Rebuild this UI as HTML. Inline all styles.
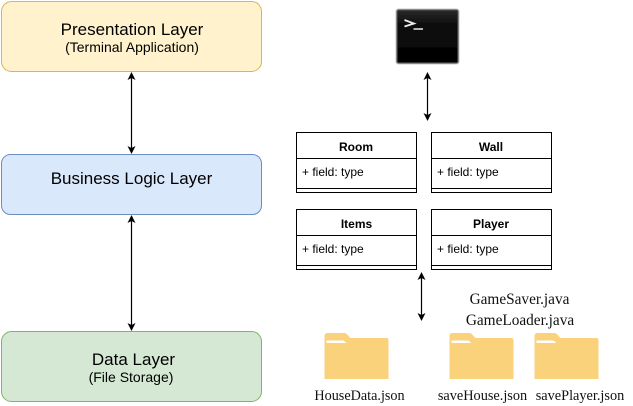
<!DOCTYPE html>
<html>
<head>
<meta charset="utf-8">
<style>
html,body{margin:0;padding:0;background:#fff;width:633px;height:406px;overflow:hidden}
svg{display:block}
.s{font-family:"Liberation Sans",sans-serif;fill:#000}
.f{font-family:"Liberation Serif",serif;fill:#111}
</style>
</head>
<body>
<svg width="633" height="406" viewBox="0 0 633 406" xmlns="http://www.w3.org/2000/svg">
<defs>
<g id="folder">
<path d="M0 3Q0 0 3 0H20Q22 0 24 3L26 5H62Q64 5 64 7V46H0Z" fill="#fad27c"/>
<path d="M2 7.5H19L22 10H2Z" fill="#fff"/>
</g>
<linearGradient id="term" x1="0" y1="0" x2="0" y2="1"><stop offset="0" stop-color="#2a2a2a"/><stop offset=".25" stop-color="#111"/><stop offset="1" stop-color="#000"/></linearGradient>
<filter id="soft" x="-10%" y="-10%" width="120%" height="120%"><feGaussianBlur stdDeviation="0.5"/></filter>
</defs>

<rect x="1.5" y="1.5" width="260" height="70" rx="10" fill="#fff2cc" stroke="#d6b656"/>
<rect x="1.5" y="154.5" width="260" height="60" rx="9" fill="#dae8fc" stroke="#6c8ebf"/>
<rect x="1.5" y="331.5" width="260" height="70" rx="10" fill="#d5e8d4" stroke="#82b366"/>

<text class="s" x="132" y="35" font-size="17" text-anchor="middle">Presentation Layer</text>
<text class="s" x="132" y="52" font-size="14" text-anchor="middle">(Terminal Application)</text>
<text class="s" x="131.5" y="184" font-size="17" text-anchor="middle">Business Logic Layer</text>
<text class="s" x="133.5" y="365" font-size="17" text-anchor="middle">Data Layer</text>
<text class="s" x="131" y="382" font-size="14" text-anchor="middle">(File Storage)</text>

<g stroke="#000" stroke-width="1.2" fill="none">
<path d="M131.5 78V148"/>
<path d="M131.5 221V325"/>
<path d="M427.5 77V116"/>
<path d="M421.5 276V316"/>
</g>
<g fill="#000">
<path d="M131.5 72L135.5 80L131.5 78L127.5 80Z"/>
<path d="M131.5 154L135.5 146L131.5 148L127.5 146Z"/>
<path d="M131.5 215L135.5 223L131.5 221L127.5 223Z"/>
<path d="M131.5 331L135.5 323L131.5 325L127.5 323Z"/>
<path d="M427.5 72L431.5 80L427.5 78L423.5 80Z"/>
<path d="M427.5 121L431.5 113L427.5 115L423.5 113Z"/>
<path d="M421.5 272L425.5 280L421.5 278L417.5 280Z"/>
<path d="M421.5 321L425.5 313L421.5 315L417.5 313Z"/>
</g>

<rect x="396.5" y="9.5" width="62" height="54" rx="2" fill="url(#term)" stroke="#777" filter="url(#soft)"/>
<path d="M404.5 20L414 23.5L404.5 26.5" fill="none" stroke="#eee" stroke-width="1.8"/>
<path d="M413.5 29H423" stroke="#ddd" stroke-width="1.6"/>

<g fill="#fff" stroke="#000">
<rect x="296.5" y="132.5" width="120" height="60"/>
<rect x="431.5" y="132.5" width="120" height="60"/>
<rect x="296.5" y="209.5" width="120" height="60"/>
<rect x="431.5" y="209.5" width="120" height="60"/>
<path d="M296.5 158.5H416.5M296.5 188.5H416.5M431.5 158.5H551.5M431.5 188.5H551.5M296.5 235.5H416.5M296.5 265.5H416.5M431.5 235.5H551.5M431.5 265.5H551.5" fill="none"/>
</g>
<text class="s" x="356" y="151" font-size="12" font-weight="bold" text-anchor="middle">Room</text>
<text class="s" x="491" y="151" font-size="12" font-weight="bold" text-anchor="middle">Wall</text>
<text class="s" x="356.5" y="228" font-size="12" font-weight="bold" text-anchor="middle">Items</text>
<text class="s" x="491" y="228" font-size="12" font-weight="bold" text-anchor="middle">Player</text>
<text class="s" x="302" y="176" font-size="12">+ field: type</text>
<text class="s" x="437" y="176" font-size="12">+ field: type</text>
<text class="s" x="302" y="253" font-size="12">+ field: type</text>
<text class="s" x="437" y="253" font-size="12">+ field: type</text>

<use href="#folder" x="324.5" y="333"/>
<use href="#folder" x="449.5" y="333"/>
<use href="#folder" x="534.5" y="333"/>

<text class="f" x="519.5" y="304" font-size="15.3" text-anchor="middle">GameSaver.java</text>
<text class="f" x="520" y="325" font-size="15.3" text-anchor="middle">GameLoader.java</text>
<text class="f" x="359.5" y="400" font-size="14.2" text-anchor="middle">HouseData.json</text>
<text class="f" x="482.5" y="400" font-size="14.3" text-anchor="middle">saveHouse.json</text>
<text class="f" x="580" y="400" font-size="14.3" text-anchor="middle">savePlayer.json</text>
</svg>
</body>
</html>
